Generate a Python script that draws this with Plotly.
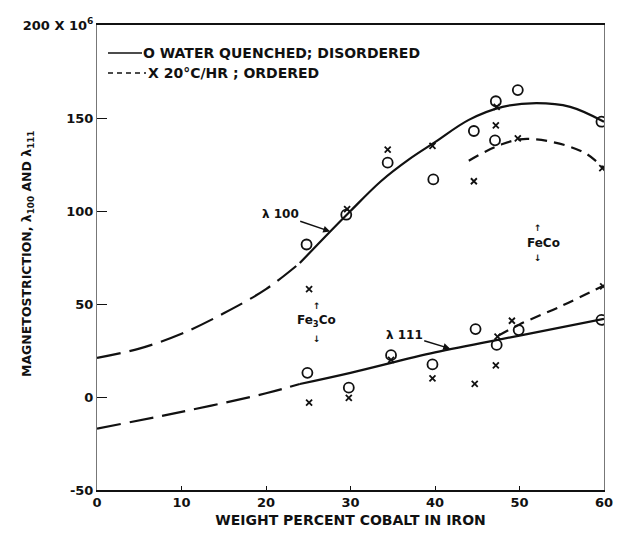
import plotly.graph_objects as go

# ---- data ----
# lambda100 fitted curve, water quenched (disordered); extrapolated below ~24 %
l100_x = [0, 5, 10, 15, 20, 24, 27.6, 30, 33.6, 37, 40, 44, 48, 52, 56, 60]
l100_y = [21, 26, 34, 45, 58, 72, 89, 100, 116, 128, 137, 149, 156, 158, 156, 148]
# lambda100 ordered (20 C/hr) dashed curve
l100o_x = [44, 46, 48, 50, 52, 54, 56, 58, 60]
l100o_y = [127, 132, 136, 138.5, 138.5, 137, 134.5, 130.5, 123]
# lambda111 fitted line, water quenched; extrapolated below ~24 %
l111_x = [0, 10, 20, 24, 30, 40, 50, 60]
l111_y = [-17, -8, 2, 7, 13, 24, 33, 42]
# lambda111 ordered dashed line
l111o_x = [47.5, 50, 55, 60]
l111o_y = [33, 39, 49, 60]
extrap_limit = 24

# measured points: water quenched (circles)
wq_x = [24.8, 29.5, 34.4, 39.8, 44.6, 47.2, 47.1, 49.8, 59.7,
        24.9, 29.8, 34.8, 39.7, 44.8, 47.3, 49.9, 59.7]
wq_y = [82, 98, 126, 117, 143, 159, 138, 165, 148,
        13, 5, 22.5, 17.5, 36.5, 28, 36, 41.5]
# measured points: 20 C/hr ordered (crosses)
ord_x = [25.1, 29.6, 34.4, 39.7, 44.6, 47.2, 47.3, 49.8, 59.8,
         25.1, 29.8, 34.8, 39.7, 44.7, 47.2, 47.4, 49.1, 59.9]
ord_y = [58, 101, 133, 135, 116, 146, 156, 139, 123,
         -3, -0.5, 20, 10, 7, 17, 32.5, 41, 59.5]

x_ticks = [0, 10, 20, 30, 40, 50, 60]
x_tick_text = ["0", "10", "20", "30", "40", "50", "60"]
y_ticks = [-50, 0, 50, 100, 150, 200]
y_tick_text = ["-50", "0", "50", "100", "150", "200 X 10<sup>6</sup>"]

INK = "#111111"
FONT = "DejaVu Sans"

def split(xs, ys, lim):
    ex = [(x, y) for x, y in zip(xs, ys) if x <= lim]
    so = [(x, y) for x, y in zip(xs, ys) if x >= lim]
    return ([p[0] for p in ex], [p[1] for p in ex]), ([p[0] for p in so], [p[1] for p in so])

fig = go.Figure()

for xs, ys in [(l100_x, l100_y), (l111_x, l111_y)]:
    (ex, ey), (sx, sy) = split(xs, ys, extrap_limit)
    fig.add_trace(go.Scatter(x=ex, y=ey, mode="lines", line=dict(color=INK, width=2.2, dash="24px,9px"),
                             line_shape="spline", showlegend=False, hoverinfo="skip"))
    fig.add_trace(go.Scatter(x=sx, y=sy, mode="lines", line=dict(color=INK, width=2.2),
                             line_shape="spline", showlegend=False, hoverinfo="skip"))

for xs, ys in [(l100o_x, l100o_y), (l111o_x, l111o_y)]:
    fig.add_trace(go.Scatter(x=xs, y=ys, mode="lines", line=dict(color=INK, width=2.2, dash="11px,7px"),
                             line_shape="spline", showlegend=False, hoverinfo="skip"))

fig.add_trace(go.Scatter(x=wq_x, y=wq_y, mode="markers",
                         marker=dict(symbol="circle-open", size=10, color=INK, line=dict(width=1.8)),
                         showlegend=False))
fig.add_trace(go.Scatter(x=ord_x, y=ord_y, mode="markers",
                         marker=dict(symbol="x-thin-open", size=6, color=INK, line=dict(width=1.8)),
                         showlegend=False))

bold = dict(family=FONT, color=INK, weight="bold")
annotations = [
    dict(x=27.6, y=89, xref="x", yref="y", text="λ 100", showarrow=True, arrowhead=2, arrowsize=1,
         arrowwidth=1.4, arrowcolor=INK, ax=-50, ay=-17, font=dict(size=12, **bold)),
    dict(x=41.8, y=26, xref="x", yref="y", text="λ 111", showarrow=True, arrowhead=2, arrowsize=1,
         arrowwidth=1.4, arrowcolor=INK, ax=-46, ay=-14, font=dict(size=12, **bold)),
    dict(x=52.8, y=83, xref="x", yref="y", text="FeCo", showarrow=False, font=dict(size=12, **bold)),
    dict(x=52.2, y=91, xref="x", yref="y", text="↑", showarrow=False, font=dict(size=9, **bold)),
    dict(x=52.2, y=75, xref="x", yref="y", text="↓", showarrow=False, font=dict(size=9, **bold)),
    dict(x=26.0, y=41, xref="x", yref="y", text="Fe<sub>3</sub>Co", showarrow=False, font=dict(size=12, **bold)),
    dict(x=26.0, y=49, xref="x", yref="y", text="↑", showarrow=False, font=dict(size=9, **bold)),
    dict(x=26.0, y=31, xref="x", yref="y", text="↓", showarrow=False, font=dict(size=9, **bold)),
    # legend text
    dict(x=(141 - 97) / 507, y=(490 - 53) / 465, xref="paper", yref="paper", xanchor="left", yanchor="middle",
         text="O WATER QUENCHED; DISORDERED", showarrow=False, font=dict(size=14, **bold)),
    dict(x=(146 - 97) / 507, y=(490 - 73) / 465, xref="paper", yref="paper", xanchor="left", yanchor="middle",
         text="X 20°C/HR ; ORDERED", showarrow=False, font=dict(size=14, **bold)),
    # y-axis title
    dict(x=(28 - 97) / 507, y=(490 - 254) / 465, xref="paper", yref="paper", xanchor="center", yanchor="middle",
         textangle=-90, text="MAGNETOSTRICTION, λ<sub>100</sub> AND λ<sub>111</sub>", showarrow=False,
         font=dict(size=12.5, **bold)),
]

shapes = [
    dict(type="line", xref="paper", yref="paper", x0=(108 - 97) / 507, x1=(142 - 97) / 507,
         y0=(490 - 53) / 465, y1=(490 - 53) / 465, line=dict(color=INK, width=1.6)),
    dict(type="line", xref="paper", yref="paper", x0=(108 - 97) / 507, x1=(146 - 97) / 507,
         y0=(490 - 73) / 465, y1=(490 - 73) / 465, line=dict(color=INK, width=1.6, dash="5px,4px")),
]

fig.update_layout(
    width=626, height=538,
    margin=dict(l=97, r=22, t=25, b=48),
    paper_bgcolor="white", plot_bgcolor="white",
    font=dict(family=FONT, color=INK, size=12),
    annotations=annotations, shapes=shapes,
    showlegend=False,
)
fig.update_xaxes(range=[0, 60], tickvals=x_ticks, ticktext=x_tick_text, showgrid=False, zeroline=False,
                 showline=True, linecolor=INK, linewidth=1.5, mirror=True,
                 ticks="inside", ticklen=4, tickcolor=INK,
                 tickfont=dict(size=13, **bold),
                 title=dict(text="WEIGHT PERCENT COBALT IN IRON", font=dict(size=14, **bold), standoff=6))
fig.update_yaxes(range=[-50, 200], tickvals=y_ticks, ticktext=y_tick_text, showgrid=False, zeroline=False,
                 showline=True, linecolor="#777777", linewidth=1, mirror=True,
                 ticks="inside", ticklen=10, tickcolor=INK,
                 tickfont=dict(size=13, **bold))

fig.write_html("out.html")
